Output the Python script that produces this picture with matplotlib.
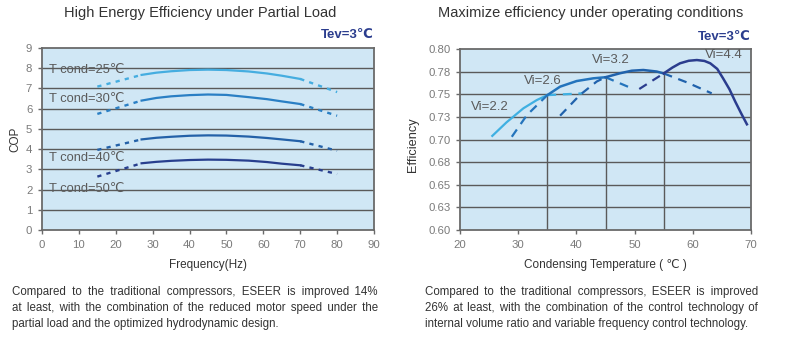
import matplotlib
matplotlib.use("Agg")
import matplotlib.pyplot as plt
from matplotlib.font_manager import FontProperties

plt.rcParams['font.family'] = ['Liberation Sans', 'DejaVu Sans']

# ---- left chart: COP vs frequency ----
freq_solid = [27, 31, 35, 40, 45, 50, 56, 61, 65, 70]
cop_solid = {
    '25': [7.67, 7.78, 7.85, 7.91, 7.93, 7.91, 7.84, 7.74, 7.63, 7.47],
    '30': [6.40, 6.53, 6.61, 6.67, 6.70, 6.68, 6.57, 6.47, 6.36, 6.23],
    '40': [4.48, 4.56, 4.61, 4.66, 4.68, 4.67, 4.62, 4.55, 4.48, 4.39],
    '50': [3.30, 3.37, 3.42, 3.46, 3.48, 3.47, 3.43, 3.36, 3.28, 3.20],
}
freq_dash_left = [15, 27]
cop_dash_left = {'25': [7.09, 7.67], '30': [5.74, 6.40], '40': [3.96, 4.48], '50': [2.64, 3.30]}
freq_dash_right = [70, 80]
cop_dash_right = {'25': [7.47, 6.82], '30': [6.23, 5.65], '40': [4.39, 3.92], '50': [3.20, 2.77]}
cond_colors = {'25': '#45ade0', '30': '#2a7fc4', '40': '#2461a8', '50': '#283f8e'}
cond_label_y = {'25': 7.9, '30': 6.48, '40': 3.56, '50': 2.03}

# ---- right chart: efficiency vs condensing temperature ----
vi22_x = [25.55, 28.0, 30.9, 33.2, 35.0]
vi22_y = [0.704, 0.719, 0.7345, 0.7436, 0.749]
vi22_ext_x = [35.0, 41.0]
vi22_ext_y = [0.749, 0.751]

vi26_dl_x = [28.9, 31.5, 35.0]
vi26_dl_y = [0.703, 0.727, 0.749]
vi26_x = [35.0, 37.2, 40.05, 42.9, 45.0]
vi26_y = [0.749, 0.7584, 0.7646, 0.7676, 0.7688]
vi26_dr_x = [45.0, 49.5]
vi26_dr_y = [0.7688, 0.7566]

vi32_dl_x = [37.2, 40.6, 43.5, 45.0]
vi32_dl_y = [0.7263, 0.7492, 0.7641, 0.7688]
vi32_x = [45.0, 47.5, 49.5, 51.5, 53.8, 55.0]
vi32_y = [0.7688, 0.7732, 0.7760, 0.7768, 0.7751, 0.7730]
vi32_dr_x = [55.0, 58.95, 63.25]
vi32_dr_y = [0.7730, 0.7632, 0.751]

vi44_dl_x = [50.8, 55.0]
vi44_dl_y = [0.7558, 0.7730]
vi44_x = [55.0, 56.5, 57.8, 59.3, 60.7, 62.0, 63.0, 64.2, 65.2, 66.3, 67.3, 68.3, 69.3]
vi44_y = [0.7730, 0.7795, 0.7842, 0.7870, 0.7878, 0.7868, 0.7842, 0.7780, 0.7676, 0.7555, 0.7418, 0.7290, 0.7168]

vline_x = [35.0, 45.0, 55.0]
vline_top = [0.749, 0.7688, 0.7730]

eff_ticks = [0.600, 0.625, 0.650, 0.675, 0.700, 0.725, 0.750, 0.775, 0.800]
eff_labels = ['0.60', '0.63', '0.65', '0.68', '0.70', '0.73', '0.75', '0.78', '0.80']

vi_labels = ['Vi=2.2', 'Vi=2.6', 'Vi=3.2', 'Vi=4.4']
vi_label_pos = [(21.8, 0.736), (31.0, 0.765), (42.7, 0.788), (62.1, 0.793)]

left_para = ["Compared to the traditional compressors, ESEER is improved 14%",
             "at least, with the combination of the reduced motor speed under the",
             "partial load and the optimized hydrodynamic design."]
right_para = ["Compared to the traditional compressors, ESEER is improved",
              "26% at least, with the combination of the control technology of",
              "internal volume ratio and variable frequency control technology."]

W, H = 787, 342
BG = '#d0e7f5'
GRID = '#5a5a5a'
TICK = '#7a7a7a'

fig = plt.figure(figsize=(W / 100, H / 100), dpi=100)


def px(x, y):
    return x / W, 1 - y / H


def style_axes(ax):
    ax.set_facecolor(BG)
    for s in ax.spines.values():
        s.set_color('#6a6a6a')
        s.set_linewidth(1.3)
    ax.tick_params(labelsize=8.2, labelcolor=TICK, color='#6a6a6a', length=3, width=1, pad=4)


# left axes
ax1 = fig.add_axes([42 / W, 1 - 230 / H, 332 / W, 182 / H])
style_axes(ax1)
ax1.set_xlim(0, 90)
ax1.set_ylim(0, 9)
ax1.set_xticks(range(0, 91, 10))
ax1.set_yticks(range(0, 10))
for yv in range(1, 9):
    ax1.axhline(yv, color=GRID, lw=1.0, zorder=1)
for key in cop_solid:
    c = cond_colors[key]
    ax1.plot(freq_solid, cop_solid[key], color=c, lw=1.6, zorder=3)
    ax1.plot(freq_dash_left, cop_dash_left[key], color=c, lw=1.7, ls=(0, (1.8, 2.2)), zorder=3)
    ax1.plot(freq_dash_right, cop_dash_right[key], color=c, lw=1.7, ls=(0, (1.8, 2.2)), zorder=3)
    ax1.text(2.0, cond_label_y[key], 'T cond=%s℃' % key, fontsize=9.3, color='#5a5a5a',
             va='center', ha='left', zorder=4)
ax1.set_xlabel('Frequency(Hz)', fontsize=8.5, color='#333333', labelpad=7)
ax1.set_ylabel('COP', fontsize=8.5, color='#333333')
ax1.yaxis.set_label_coords(-0.062, 0.5)

# right axes
ax2 = fig.add_axes([460 / W, 1 - 230 / H, 291 / W, 181 / H])
style_axes(ax2)
ax2.set_xlim(20, 70)
ax2.set_ylim(0.6, 0.8)
ax2.set_xticks(range(20, 71, 10))
ax2.set_yticks(eff_ticks)
ax2.set_yticklabels(eff_labels)
for yv in eff_ticks[1:-1]:
    ax2.axhline(yv, color=GRID, lw=1.0, zorder=1)
ax2.vlines(vline_x, 0.6, vline_top, color=GRID, lw=1.0, zorder=1)

dash = (0, (4, 3))
ax2.plot(vi22_x, vi22_y, color='#3fb0e2', lw=1.6, zorder=3)
ax2.plot(vi22_ext_x, vi22_ext_y, color='#3fb0e2', lw=1.6, ls=dash, zorder=3)
ax2.plot(vi26_dl_x, vi26_dl_y, color='#2474bc', lw=1.6, ls=dash, zorder=3)
ax2.plot(vi26_x, vi26_y, color='#2474bc', lw=1.8, zorder=3)
ax2.plot(vi26_dr_x, vi26_dr_y, color='#2474bc', lw=1.6, ls=dash, zorder=3)
ax2.plot(vi32_dl_x, vi32_dl_y, color='#2062ac', lw=1.6, ls=dash, zorder=3)
ax2.plot(vi32_x, vi32_y, color='#2062ac', lw=1.8, zorder=3)
ax2.plot(vi32_dr_x, vi32_dr_y, color='#2062ac', lw=1.6, ls=dash, zorder=3)
ax2.plot(vi44_dl_x, vi44_dl_y, color='#2b3d8e', lw=1.6, ls=dash, zorder=3)
ax2.plot(vi44_x, vi44_y, color='#2b3d8e', lw=1.8, zorder=3)
for lab, (lx, ly) in zip(vi_labels, vi_label_pos):
    ax2.text(lx, ly, lab, fontsize=9.5, color='#5a5a5a', va='center', ha='left', zorder=4)
ax2.set_xlabel('Condensing Temperature ( ℃ )', fontsize=8.5, color='#333333', labelpad=7)
ax2.set_ylabel('Efficiency', fontsize=9.2, color='#333333')
ax2.yaxis.set_label_coords(-0.14, 0.47)

# titles and Tev notes
fig.text(*px(200, 13), 'High Energy Efficiency under Partial Load', fontsize=10.5,
         color='#333333', ha='center', va='center')
fig.text(*px(591, 13), 'Maximize efficiency under operating conditions', fontsize=10.5,
         color='#333333', ha='center', va='center')
fig.text(*px(374, 35), 'Tev=3℃', fontsize=9.5, fontweight='bold', color='#2b3d8e',
         ha='right', va='center')
fig.text(*px(751, 37), 'Tev=3℃', fontsize=9.5, fontweight='bold', color='#2b3d8e',
         ha='right', va='center')


# justified paragraphs: widen word gaps with hair spaces, last line left-aligned
def draw_paragraph(lines, x0, x1, baselines, size):
    renderer = fig.canvas.get_renderer()
    prop = FontProperties(family=['Liberation Sans', 'DejaVu Sans'], size=size)

    def width(s):
        return renderer.get_text_width_height_descent(s, prop, ismath=False)[0]

    hair = (width('a' + '\u200a' * 10 + 'a') - width('aa')) / 10
    for i, line in enumerate(lines):
        text = line
        if i < len(lines) - 1 and hair > 0.05:
            words = line.split(' ')
            extra = (x1 - x0) - width(line)
            n = len(words) - 1
            text = words[0]
            acc = 0.0
            for j, w in enumerate(words[1:], 1):
                k = max(0, int(round((extra * j / n - acc) / hair)))
                acc += k * hair
                text += ' ' + '\u200a' * k + w
        fig.text(*px(x0, baselines[i]), text, fontproperties=prop, color='#333333',
                 ha='left', va='baseline')


draw_paragraph(left_para, 12, 378, [295, 311, 326.5], 8.3)
draw_paragraph(right_para, 425, 758, [295, 310.5, 326.5], 8.3)

fig.savefig('out.png', dpi=100)
